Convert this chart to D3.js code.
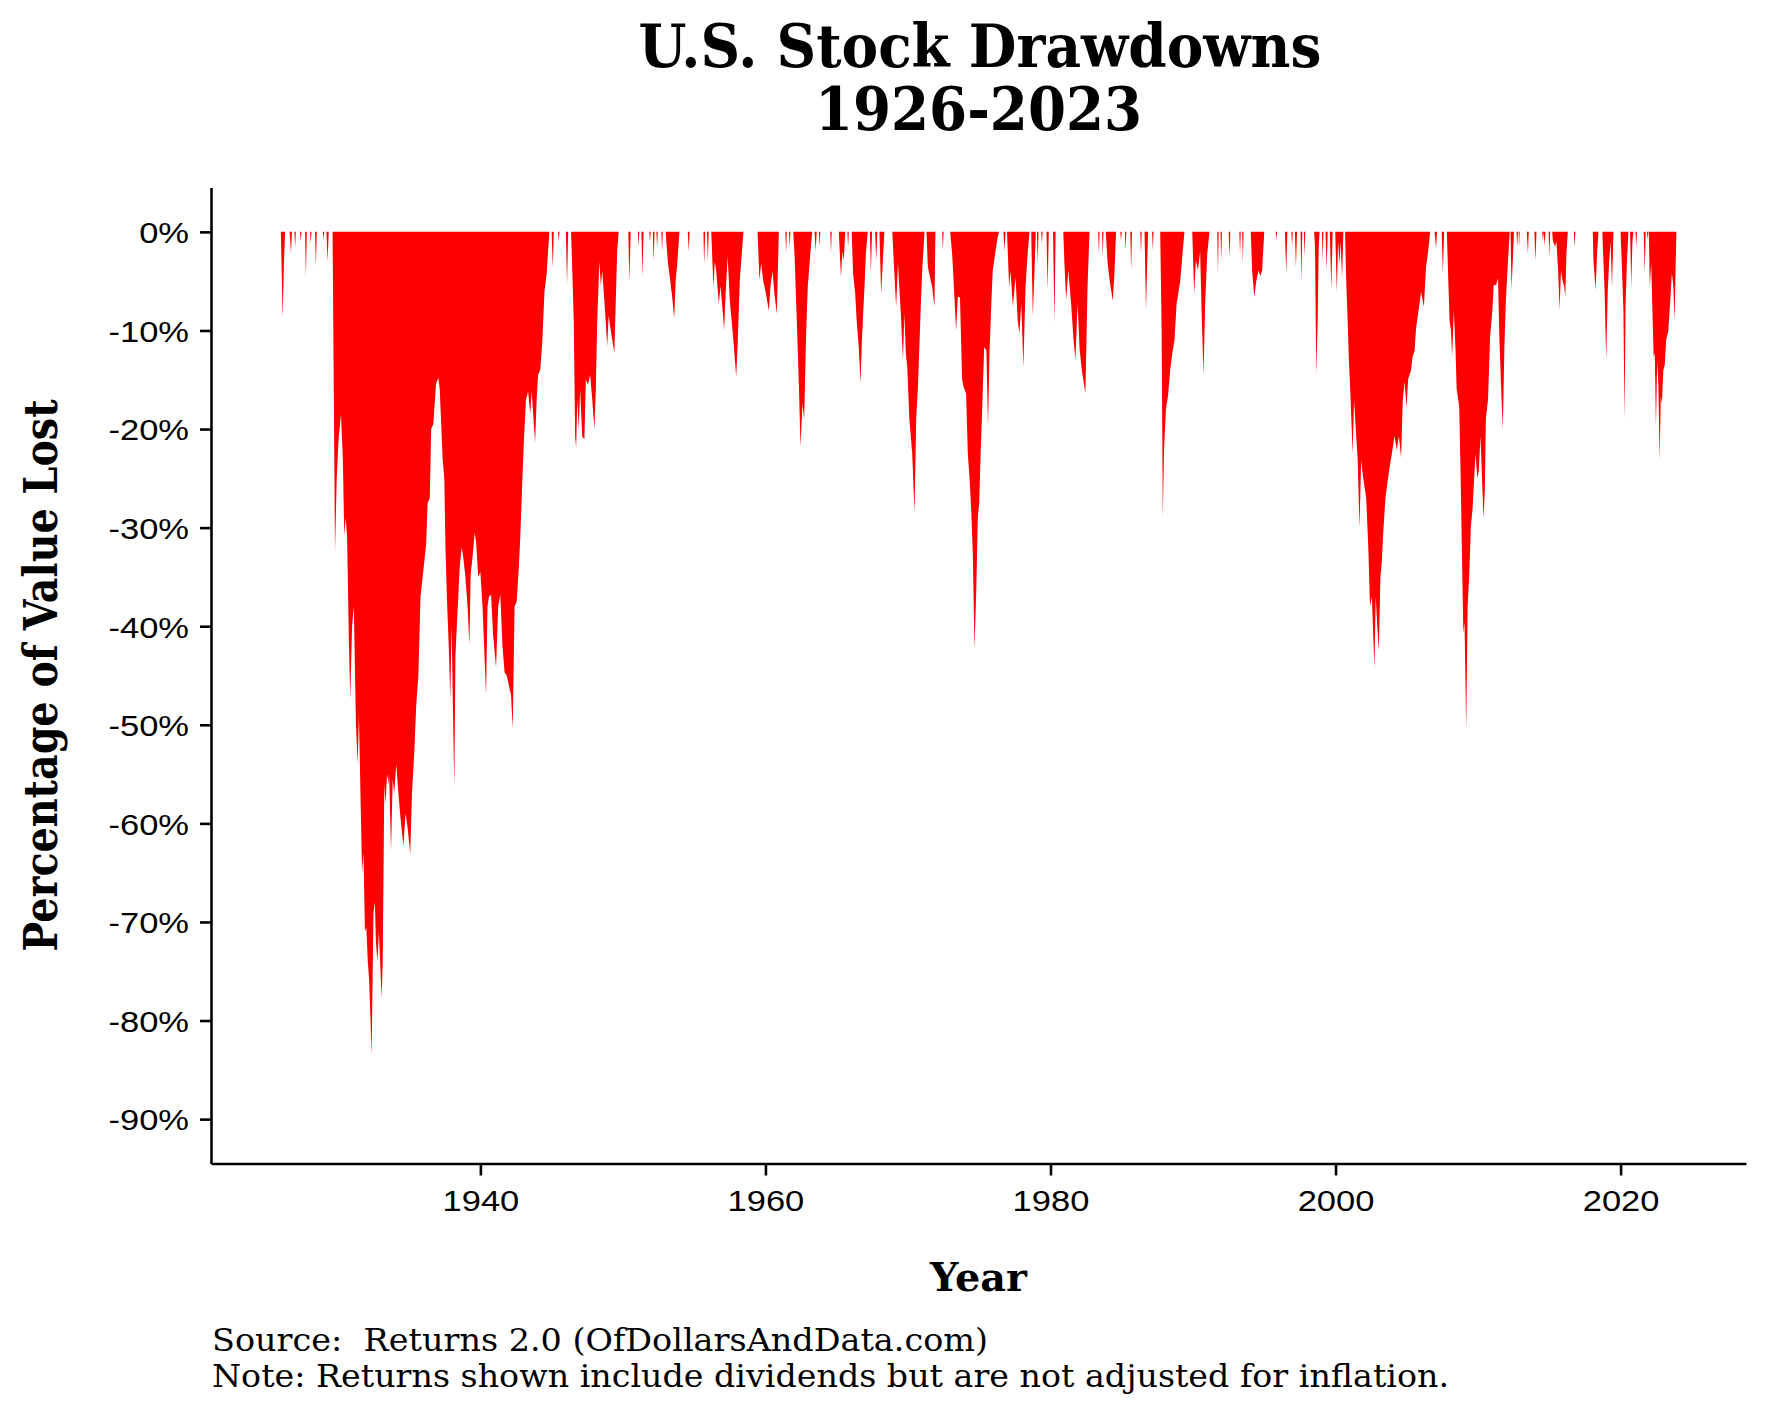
<!DOCTYPE html>
<html><head><meta charset="utf-8">
<script src="https://cdn.jsdelivr.net/npm/d3@7/dist/d3.min.js"></script>
<style>body{margin:0;background:#fff}svg{display:block}</style>
</head><body>
<svg id="chart" width="1771" height="1417"></svg>
<script>
// ---------- text ----------
const titleLines = ["U.S. Stock Drawdowns", "1926-2023"];
const xLabel = "Year";
const yLabel = "Percentage of Value Lost";
const captionLines = [
  "Source:  Returns 2.0 (OfDollarsAndData.com)",
  "Note: Returns shown include dividends but are not adjusted for inflation."
];
// ---------- ticks ----------
const xTicks = [1940, 1960, 1980, 2000, 2020];
const yTicks = [0, -10, -20, -30, -40, -50, -60, -70, -80, -90];
const yTickLabels = ["0%", "-10%", "-20%", "-30%", "-40%", "-50%", "-60%", "-70%", "-80%", "-90%"];
// ---------- data: [year, drawdown %] ----------
const dd1920s = [
[1926.0,0],[1926.13,-8.8],[1926.22,-3],[1926.3,0],
[1926.62,0],[1926.71,-2.2],[1926.78,0],
[1926.95,0],[1927.0,-1.6],[1927.05,0],
[1927.35,0],[1927.4,-1],[1927.45,0],
[1927.7,0],[1927.76,-4.6],[1927.82,0],
[1928.05,0],[1928.1,-1.2],[1928.15,0],
[1928.4,0],[1928.46,-3.5],[1928.52,0],
[1928.95,0],[1929.0,-0.8],[1929.05,0],
[1929.2,0],[1929.28,-3],[1929.36,0],
[1929.63,0],[1929.8,-32.5],[1929.92,-25]
];
const dd1930s = [
[1930.05,-21],[1930.22,-18.5],[1930.35,-23],[1930.45,-30.8],[1930.55,-29],[1930.65,-31],[1930.78,-42],[1930.87,-47.4],
[1931.0,-40],[1931.12,-38],[1931.27,-50],[1931.39,-54],[1931.48,-49],[1931.6,-58],[1931.7,-65],[1931.8,-63],[1931.9,-71],
[1932.0,-70.5],[1932.1,-74],[1932.2,-76],[1932.37,-83.5],[1932.5,-69],[1932.6,-68],[1932.67,-72],[1932.78,-74],[1932.88,-71],
[1933.07,-77.7],[1933.15,-74],[1933.26,-56],[1933.35,-58],[1933.45,-55],[1933.55,-56],[1933.6,-55],[1933.73,-62.8],[1933.85,-55.5],[1933.95,-57],
[1934.1,-54],[1934.25,-57],[1934.4,-59.5],[1934.6,-62.3],[1934.75,-59],[1934.9,-60.5],
[1935.08,-63.1],[1935.2,-57],[1935.36,-52.9],[1935.5,-48],[1935.65,-45],[1935.8,-37],[1935.95,-35],
[1936.1,-33],[1936.2,-31.5],[1936.3,-27.5],[1936.45,-27],[1936.55,-20],[1936.7,-19.5],[1936.89,-15.4],
[1937.05,-14.8],[1937.15,-16],[1937.25,-19.5],[1937.35,-23],[1937.47,-25],[1937.55,-32],[1937.65,-37],[1937.78,-42],[1937.89,-47.4],[1937.98,-40],
[1938.17,-56.4],[1938.25,-43],[1938.35,-40],[1938.45,-37],[1938.55,-34],[1938.69,-32],[1938.8,-33],[1938.95,-35],
[1939.1,-38],[1939.23,-41.9],[1939.32,-34.7],[1939.45,-33],[1939.6,-30.5],[1939.7,-31.5],[1939.85,-35]
];
const dd1940s = [
[1940.0,-34.5],[1940.15,-38],[1940.4,-47],[1940.5,-38],[1940.6,-37],[1940.75,-36.8],[1940.9,-41],
[1941.1,-44.2],[1941.25,-38],[1941.4,-36.8],[1941.55,-42],[1941.7,-44.7],[1941.85,-45],
[1942.0,-46],[1942.15,-47],[1942.27,-50.4],[1942.4,-38],[1942.55,-37.5],[1942.7,-34],[1942.8,-31],[1942.95,-25],
[1943.05,-21.4],[1943.2,-17],[1943.35,-16.2],[1943.5,-18.5],[1943.6,-16.2],[1943.84,-21.4],[1943.95,-17],
[1944.05,-14.5],[1944.2,-14],[1944.35,-11],[1944.5,-6],[1944.65,-4.3],[1944.84,0],
[1945.0,0],[1945.08,-3.7],[1945.15,0],
[1945.45,0],[1945.5,-1],[1945.55,0],
[1946.0,0],[1946.08,-5.4],[1946.16,0],
[1946.36,0],[1946.45,-4],[1946.55,-9],[1946.65,-20.8],[1946.72,-21.9],[1946.8,-17],[1946.9,-20],
[1947.0,-16],[1947.15,-20.8],[1947.3,-21],[1947.4,-15],[1947.55,-15.5],[1947.7,-14.5],[1947.85,-17],
[1948.0,-20],[1948.1,-16],[1948.2,-9],[1948.35,-3],[1948.45,-5.5],[1948.55,-4],[1948.7,-7],[1948.9,-11.6],
[1949.0,-8.5],[1949.15,-10],[1949.4,-12.3],[1949.5,-7],[1949.6,-2],[1949.7,0]
];
const dd1950s = [
[1950.38,0],[1950.45,-5],[1950.55,0],
[1951.05,0],[1951.1,-1.5],[1951.15,0],
[1951.3,0],[1951.37,-4.5],[1951.45,0],
[1951.85,0],[1951.9,-1],[1951.95,0],
[1952.1,0],[1952.15,-3],[1952.22,0],
[1952.35,0],[1952.4,-1.5],[1952.45,0],
[1952.7,0],[1952.75,-2],[1952.8,0],
[1953.0,0],[1953.15,-3],[1953.3,-4.7],[1953.45,-6.5],[1953.6,-8.8],[1953.7,-5],[1953.8,-3.5],[1953.97,0],
[1954.55,0],[1954.62,-2],[1954.68,0],
[1955.65,0],[1955.7,-3.3],[1955.78,0],
[1955.9,0],[1955.96,-3],[1956.02,0],
[1956.2,0],[1956.35,-5.6],[1956.45,-3],[1956.55,-4],[1956.73,-7.3],[1956.85,-5.5],
[1957.0,-8],[1957.1,-10],[1957.2,-6.5],[1957.35,-2.5],[1957.5,-7],[1957.6,-8.5],[1957.75,-11],[1957.95,-14.7],
[1958.05,-11.5],[1958.2,-5],[1958.35,-2],[1958.46,0],
[1959.45,0],[1959.58,-4.9],[1959.7,-3.2],[1959.85,-5],
[1960.0,-6],[1960.24,-8],[1960.35,-5.6],[1960.5,-4],[1960.65,-6.5],[1960.8,-8.3],[1960.94,0]
];
const dd1960s = [
[1961.4,0],[1961.45,-2.2],[1961.5,0],
[1961.65,0],[1961.7,-1.5],[1961.75,0],
[1961.95,0],[1962.05,-2.5],[1962.2,-9],[1962.35,-15.7],[1962.46,-21.8],[1962.6,-17.4],[1962.72,-19],[1962.85,-10.6],[1962.97,-5.6],
[1963.15,-2.2],[1963.28,0],
[1963.45,0],[1963.52,-1.9],[1963.6,0],
[1963.75,0],[1963.8,-1.5],[1963.85,0],
[1964.55,0],[1964.6,-2.2],[1964.65,0],
[1965.15,0],[1965.3,-4.6],[1965.4,-2],[1965.5,-2.9],[1965.6,0],
[1965.75,0],[1965.8,-1.5],[1965.85,0],
[1966.05,0],[1966.15,-4.2],[1966.3,-6.3],[1966.4,-9],[1966.55,-11.7],[1966.67,-15.4],[1966.78,-10.6],[1966.95,-5.6],
[1967.05,-2.2],[1967.18,0],
[1967.33,0],[1967.4,-4.2],[1967.48,0],
[1967.7,0],[1967.77,-2.9],[1967.85,0],
[1968.0,0],[1968.12,-6.3],[1968.25,-2.6],[1968.35,0],
[1968.9,0],[1969.0,-2.9],[1969.17,-7.6],[1969.3,-3.2],[1969.5,-8.3],[1969.65,-13],[1969.75,-8.3],[1969.85,-12.3],[1969.95,-13.7]
];
const dd1970s = [
[1970.1,-19],[1970.3,-22.5],[1970.46,-28.5],[1970.58,-19],[1970.7,-15.7],[1970.8,-11.7],[1970.9,-7.6],
[1971.0,-3.9],[1971.16,0],
[1971.3,0],[1971.4,-3.6],[1971.55,-4.6],[1971.7,-5.6],[1971.86,-7.6],[1971.93,0],
[1972.4,0],[1972.45,-1.9],[1972.5,0],
[1972.96,0],[1973.1,-2.2],[1973.2,-4.9],[1973.38,-10],[1973.5,-6.6],[1973.65,-6.6],[1973.8,-15],[1973.9,-15.7],
[1974.08,-16.4],[1974.2,-22.5],[1974.32,-25],[1974.44,-28.2],[1974.55,-32.6],[1974.67,-42.3],[1974.8,-36],[1974.9,-29],
[1975.0,-27.5],[1975.1,-22.5],[1975.2,-18.4],[1975.35,-11.7],[1975.5,-12],[1975.62,-19.8],[1975.72,-12.3],[1975.85,-7.3],[1975.95,-3.9],
[1976.12,-2.2],[1976.3,-0.5],[1976.4,0],
[1976.7,0],[1976.77,-1.9],[1976.85,0],
[1976.95,0],[1977.1,-5.6],[1977.2,-4],[1977.36,-7.6],[1977.55,-4.6],[1977.7,-9],[1977.82,-10.3],[1977.95,-7.3],
[1978.1,-13.7],[1978.25,-5.6],[1978.4,-2.2],[1978.53,0],
[1978.65,0],[1978.76,-8.6],[1978.88,-3.9],[1978.97,0],
[1979.05,0],[1979.1,-3.2],[1979.16,0],
[1979.35,0],[1979.4,-1.2],[1979.45,0],
[1979.72,0],[1979.8,-5.9],[1979.88,0]
];
const dd1980s = [
[1980.18,0],[1980.28,-9.3],[1980.36,0],
[1980.9,0],[1980.98,-3.2],[1981.1,-6.9],[1981.25,-3.9],[1981.45,-7.3],[1981.62,-11],[1981.75,-13],[1981.9,-7.3],
[1982.05,-12],[1982.2,-14],[1982.45,-16.4],[1982.6,-5.6],[1982.74,0],
[1983.35,0],[1983.4,-2.2],[1983.45,0],
[1983.62,0],[1983.67,-2.6],[1983.72,0],
[1983.88,0],[1984.0,-3],[1984.15,-4.9],[1984.37,-7],[1984.5,-3.9],[1984.6,0],
[1984.9,0],[1984.95,-0.9],[1985.0,0],
[1985.22,0],[1985.27,-1.9],[1985.32,0],
[1985.6,0],[1985.66,-3.9],[1985.72,0],
[1986.3,0],[1986.35,-2.2],[1986.4,0],
[1986.6,0],[1986.7,-7.9],[1986.78,-3.6],[1986.85,0],
[1987.13,0],[1987.18,-1.9],[1987.23,0],
[1987.7,0],[1987.8,-10],[1987.88,-29],[1987.97,-22],[1988.1,-18],[1988.25,-16.6],[1988.4,-14],[1988.55,-12.3],[1988.7,-11],[1988.85,-7.3],
[1989.1,-5],[1989.4,0],
[1989.95,0],[1990.08,-6.3],[1990.2,-2.9],[1990.35,-3.9],[1990.5,-2],[1990.62,-9],[1990.74,-14.5],[1990.85,-7.4],
[1991.0,-2.2],[1991.16,0]
];
const dd1990s = [
[1991.7,0],[1991.75,-4.2],[1991.8,0],
[1991.93,0],[1991.98,-2.9],[1992.03,0],
[1992.5,0],[1992.56,-2.6],[1992.62,0],
[1993.25,0],[1993.3,-2.2],[1993.35,0],
[1993.45,0],[1993.5,-3.2],[1993.55,0],
[1994.05,0],[1994.15,-3.9],[1994.3,-6.6],[1994.45,-4.9],[1994.6,-3.9],[1994.72,-4.5],[1994.85,-3.9],[1995.0,0],
[1995.8,0],[1995.85,-0.8],[1995.9,0],
[1996.45,0],[1996.54,-4.2],[1996.62,0],
[1996.9,0],[1996.95,-1.5],[1997.0,0],
[1997.15,0],[1997.22,-3.6],[1997.3,0],
[1997.55,0],[1997.6,-5],[1997.67,0],
[1997.78,0],[1997.82,-2.5],[1997.88,0],
[1998.5,0],[1998.56,-1.5],[1998.65,-14.5],[1998.75,-9],[1998.82,-1.5],[1998.88,0],
[1999.05,0],[1999.1,-3],[1999.15,0],
[1999.3,0],[1999.38,-3.9],[1999.45,0],
[1999.6,0],[1999.7,-5.8],[1999.8,0],
[1999.98,0],[2000.09,-6.1],[2000.18,-1],[2000.28,-3.2],[2000.36,-1],[2000.46,-4.7],[2000.55,0]
];
const dd2000s = [
[2000.67,0],[2000.75,-5],[2000.85,-9],[2000.93,-12.7],[2001.05,-16.7],[2001.2,-22.5],[2001.3,-17],[2001.42,-20],[2001.55,-23],[2001.68,-30],[2001.8,-23.2],[2001.9,-24.5],
[2002.0,-25.5],[2002.15,-27],[2002.3,-32],[2002.42,-38],[2002.55,-37],[2002.73,-44.3],[2002.82,-37],[2002.93,-40],
[2003.04,-42.5],[2003.15,-35],[2003.25,-33.4],[2003.35,-30.5],[2003.5,-27],[2003.75,-24.3],[2003.95,-22.5],
[2004.14,-20.7],[2004.3,-22.1],[2004.45,-20.7],[2004.6,-22.9],[2004.72,-17],[2004.85,-15.2],[2004.98,-17.8],
[2005.1,-14.9],[2005.3,-14],[2005.4,-12.7],[2005.55,-12],[2005.65,-9.8],[2005.9,-7.2],
[2006.0,-6.1],[2006.2,-7.6],[2006.35,-3.6],[2006.5,-2],[2006.64,0],
[2006.95,0],[2007.05,-1.7],[2007.12,0],
[2007.45,0],[2007.53,-4.3],[2007.62,0],
[2007.81,0],[2007.9,-4.3],[2008.0,-9],[2008.1,-10],[2008.18,-12.7],[2008.3,-8],[2008.42,-12],[2008.5,-16],[2008.58,-16.7],[2008.68,-17.8],[2008.78,-25],[2008.9,-35.2],[2008.97,-40.7],
[2009.05,-39.6],[2009.17,-50.5],[2009.27,-38],[2009.37,-35.2],[2009.5,-29.8],[2009.62,-28],[2009.82,-22.5],[2009.95,-25]
];
const dd2010s = [
[2010.05,-24.3],[2010.17,-20.7],[2010.38,-29],[2010.47,-26.5],[2010.55,-18.9],[2010.7,-17],[2010.85,-10.5],
[2011.0,-8],[2011.1,-5.4],[2011.27,-5.4],[2011.4,-4.7],[2011.5,-11],[2011.65,-17],[2011.74,-20],[2011.85,-11.6],[2011.95,-7],
[2012.1,-3],[2012.22,0],
[2012.28,0],[2012.35,-5.9],[2012.45,-2.5],[2012.52,0],
[2012.7,0],[2012.75,-1.5],[2012.8,0],
[2012.85,0],[2012.88,-1.5],[2012.92,0],
[2013.42,0],[2013.5,-2.2],[2013.56,0],
[2013.95,0],[2014.03,-2.9],[2014.1,0],
[2014.5,0],[2014.55,-0.9],[2014.6,0],[2014.67,-1.4],[2014.73,0],
[2014.95,0],[2015.0,-2.6],[2015.06,0],
[2015.2,0],[2015.25,-0.9],[2015.4,-1.5],[2015.5,-1],[2015.62,-4],[2015.72,-7.9],[2015.82,-3.9],[2015.92,-4.9],
[2016.04,-5.5],[2016.12,-6.6],[2016.2,-2.2],[2016.3,0],
[2016.72,0],[2016.77,-1.5],[2016.83,0],
[2018.05,0],[2018.1,-3],[2018.25,-5.9],[2018.35,-2.2],[2018.45,0],
[2018.72,0],[2018.8,-3.2],[2018.88,-6],[2018.99,-13],[2019.1,-6],[2019.2,-3],[2019.3,-1],[2019.4,-5.6],[2019.5,0]
];
const dd2020s = [
[2020.0,0],[2020.1,-3.9],[2020.2,-8],[2020.28,-19.1],[2020.35,-7.3],[2020.45,-2.9],[2020.55,0],
[2020.67,0],[2020.75,-5.6],[2020.83,-1],[2020.9,0],
[2021.05,0],[2021.1,-1.5],[2021.15,0],
[2021.62,0],[2021.7,-4.2],[2021.76,0],
[2021.85,0],[2021.9,-0.8],[2021.95,0],
[2021.98,0],[2022.05,-5.6],[2022.15,-3.2],[2022.32,-12.7],[2022.4,-12.3],[2022.48,-19.8],[2022.57,-13],[2022.65,-15.5],[2022.74,-23.1],[2022.82,-16.7],[2022.9,-17.4],
[2023.0,-14],[2023.1,-13.5],[2023.2,-11],[2023.35,-10],[2023.5,-6.6],[2023.6,-4.2],[2023.7,-5.5],[2023.79,-9],[2023.87,-3],[2023.92,0]
];

// ---------- build ----------
const series = [].concat(dd1920s, dd1930s, dd1940s, dd1950s, dd1960s, dd1970s, dd1980s, dd1990s, dd2000s, dd2010s, dd2020s);

const W = 1771, H = 1417;
const plot = {left: 211, right: 1746, top: 187.5, bottom: 1163.5};
const STRETCH = 1.15; // horizontal glyph stretch seen in the reference

const svg = d3.select("#chart");
svg.append("rect").attr("width", W).attr("height", H).attr("fill", "#fff");

const x = d3.scaleLinear().domain([1921.1, 2028.8]).range([plot.left, plot.right]);
const y = d3.scaleLinear().domain([-94.5, 4.5]).range([plot.bottom, plot.top]);

// area
const area = d3.area()
  .x(d => x(d[0]))
  .y0(y(0))
  .y1(d => y(d[1]));
svg.append("path").datum(series)
  .attr("d", area)
  .attr("fill", "#ff0000");

// axes
const axisStroke = 2.6;
const yAxis = d3.axisLeft(y).tickValues(yTicks).tickFormat((d, i) => yTickLabels[i]).tickSize(11).tickSizeOuter(0);
const gy = svg.append("g").attr("transform", `translate(${plot.left},0)`).call(yAxis);
const xAxis = d3.axisBottom(x).tickValues(xTicks).tickFormat(d3.format("d")).tickSize(12).tickSizeOuter(0);
const gx = svg.append("g").attr("transform", `translate(0,${plot.bottom})`).call(xAxis);

[gx, gy].forEach(g => {
  g.select(".domain").attr("stroke", "#000").attr("stroke-width", axisStroke);
  g.selectAll(".tick line").attr("stroke", "#000").attr("stroke-width", axisStroke);
  g.selectAll(".tick text")
    .attr("fill", "#000")
    .style("font-family", "'Liberation Sans', Arial, sans-serif")
    .style("font-size", "30px");
});
gy.selectAll(".tick text")
  .attr("x", 0).attr("dy", "0.36em")
  .attr("text-anchor", "end")
  .attr("transform", `translate(-22,0) scale(${STRETCH},1)`);
gx.selectAll(".tick text")
  .attr("y", 0).attr("dy", 0)
  .attr("text-anchor", "middle")
  .attr("transform", `translate(0,47.5) scale(${STRETCH},1)`);

// titles
const serif = "'DejaVu Serif', 'Liberation Serif', serif";
const tSpec = [
  {text: titleLines[0], x: 980, y: 67, w: 683},
  {text: titleLines[1], x: 978.5, y: 130, w: 327}
];
tSpec.forEach(t => {
  svg.append("text").text(t.text)
    .attr("x", t.x).attr("y", t.y)
    .attr("text-anchor", "middle")
    .attr("textLength", t.w).attr("lengthAdjust", "spacingAndGlyphs")
    .style("font-family", serif).style("font-weight", "bold").style("font-size", "60px")
    .attr("fill", "#000");
});

// x label
svg.append("text").text(xLabel)
  .attr("x", 978.5).attr("y", 1291)
  .attr("text-anchor", "middle")
  .attr("textLength", 97).attr("lengthAdjust", "spacingAndGlyphs")
  .style("font-family", serif).style("font-weight", "bold").style("font-size", "40px")
  .attr("fill", "#000");

// y label
svg.append("text").text(yLabel)
  .attr("transform", `translate(57,${(plot.top + plot.bottom) / 2}) scale(1.18,1) rotate(-90)`)
  .attr("x", 0).attr("y", 0)
  .attr("text-anchor", "middle")
  .attr("textLength", 552).attr("lengthAdjust", "spacingAndGlyphs")
  .style("font-family", serif).style("font-weight", "bold").style("font-size", "40px")
  .attr("fill", "#000");

// caption
const capSpec = [
  {text: captionLines[0], y: 1351, w: 776},
  {text: captionLines[1], y: 1387, w: 1237}
];
capSpec.forEach(c => {
  svg.append("text").text(c.text)
    .attr("x", 212).attr("y", c.y)
    .attr("text-anchor", "start")
    .attr("textLength", c.w).attr("lengthAdjust", "spacingAndGlyphs")
    .style("white-space", "pre")
    .style("font-family", serif).style("font-size", "31px")
    .attr("fill", "#000");
});
</script>
</body></html>
